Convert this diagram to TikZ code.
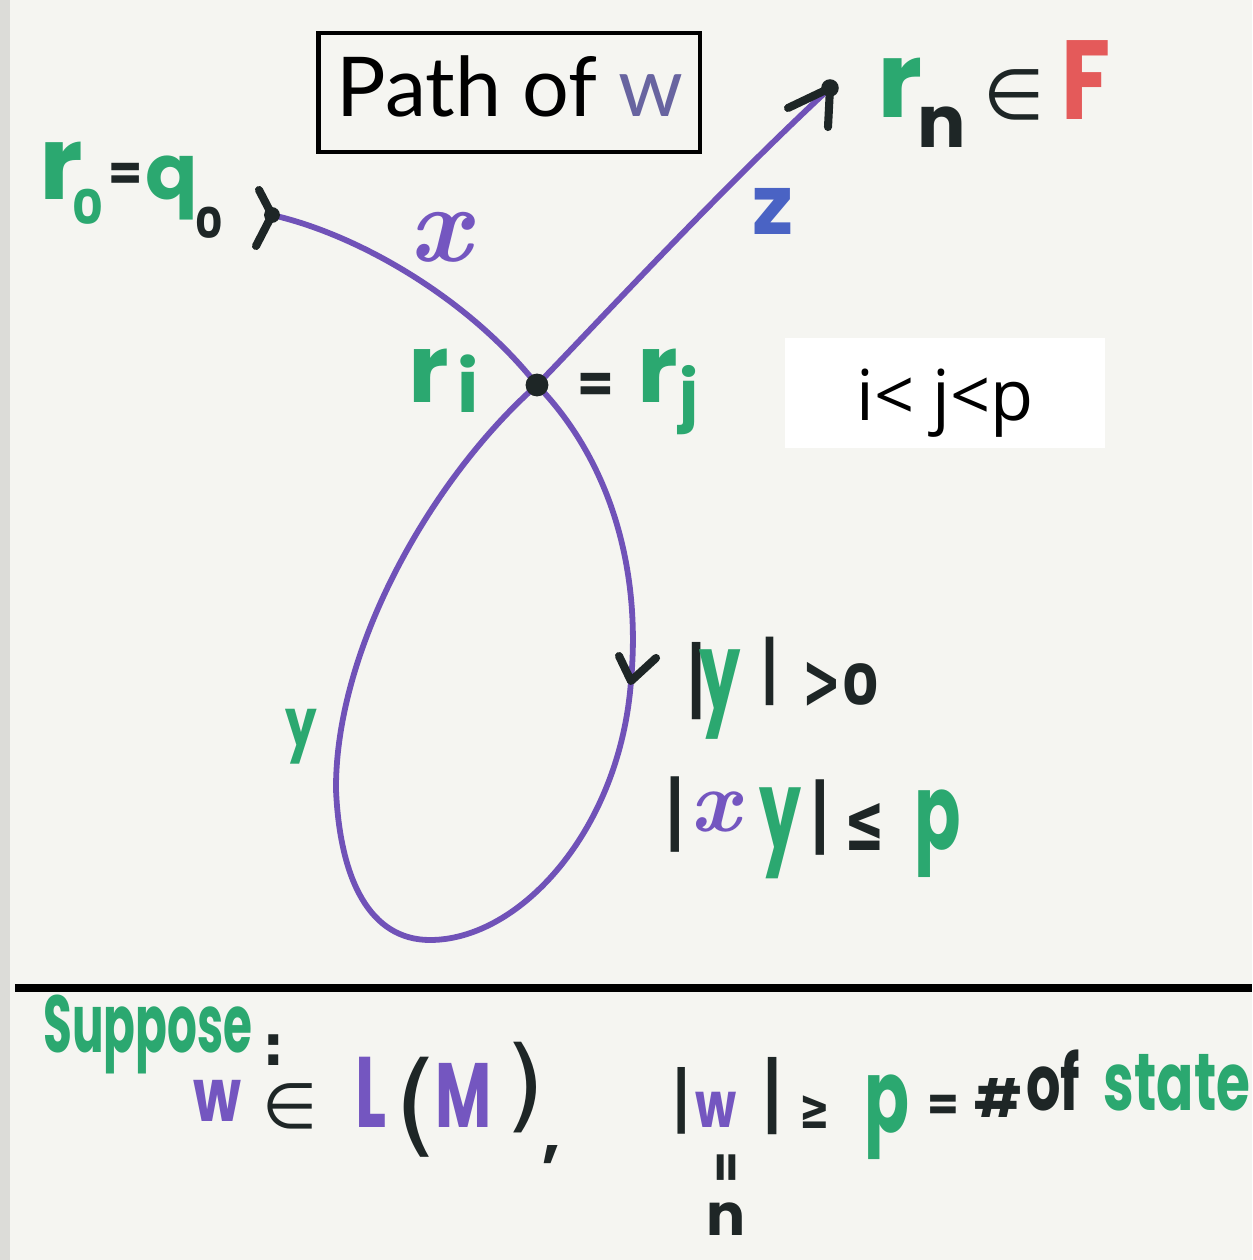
\documentclass[tikz,border=0pt]{standalone}
\usepackage{fontspec}
\usepackage{graphicx}
\newfontfamily\hw{Poppins}
\newfontfamily\sym{DejaVu Sans}
\newfontfamily\ttl{Lato}
\newfontfamily\oss{Open Sans}
\newcommand\fs[1]{\fontsize{#1}{#1}\selectfont}
\newcommand\sx[2]{\scalebox{#1}[1]{#2}}
\definecolor{paper}{HTML}{F5F5F1}
\definecolor{edge}{HTML}{DCDCD8}
\definecolor{cgreen}{HTML}{2BA870}
\definecolor{hblack}{HTML}{1E2626}
\definecolor{cpurple}{HTML}{7052B8}
\definecolor{lpurple}{HTML}{7456C0}
\definecolor{cblue}{HTML}{4A63C4}
\definecolor{cred}{HTML}{E45A5A}
\definecolor{tw}{HTML}{6864A0}
\begin{document}
\begin{tikzpicture}[x=0.02cm,y=-0.02cm,
  hwtext/.style={inner sep=0pt, font=\hw\bfseries},
  symtext/.style={inner sep=0pt, font=\sym\bfseries},
  thinsym/.style={inner sep=0pt, font=\sym},
  ittext/.style={inner sep=0pt, font=\rmfamily\bfseries\itshape},
  pathline/.style={draw=cpurple, line width=3.3pt},
  tick/.style={draw=hblack, line width=4.6pt, line cap=round, line join=round}]
% background
\fill[paper] (0,0) rectangle (1252,1260);
\fill[edge] (0,0) rectangle (10,1260);
\useasboundingbox (0,0) rectangle (1252,1260);
% title box
\node[draw=black, line width=2.8pt, minimum width=7.64cm, minimum height=2.38cm, inner sep=0pt] (title) at (509,92.5) {};
\node[inner sep=0pt, font=\ttl, anchor=base] (titletext) at (510,117) {\fs{47}Path of \textcolor{tw}{w}};
% condition box
\node[fill=white, minimum width=6.4cm, minimum height=2.2cm, inner sep=0pt] (cond) at (945,393) {};
\node[inner sep=0pt, font=\oss, anchor=base] (condtext) at (945,420) {\fs{40}i< j<p};
% separator line
\coordinate (sepL) at (15,988);
\coordinate (sepR) at (1252,988);
\draw[black, line width=4pt] (sepL) -- (sepR);
% path coordinates
\coordinate (pstart) at (272,215);
\coordinate (cross) at (537,385);
\coordinate (yarr) at (631,681);
\coordinate (pend) at (830,88);
\coordinate (loopb) at (430,940);
\coordinate (loopl) at (336,790);
% purple path
\draw[pathline] (pstart) .. controls (360,235) and (470,300) .. (cross);
\draw[pathline] (cross) .. controls (605,455) and (642,560) .. (yarr);
\draw[pathline] (yarr) .. controls (620,830) and (520,940) .. (loopb) .. controls (370,940) and (340,880) .. (loopl) .. controls (335,650) and (430,480) .. (cross);
\draw[pathline] (cross) .. controls (600,320) and (720,190) .. (pend);
% arrow marks
\coordinate (sa1) at (259,190);
\coordinate (sa2) at (256,246);
\draw[tick] (sa1) -- (pstart) -- (sa2);
\coordinate (ea1) at (788,108);
\coordinate (ea2) at (828,127);
\draw[tick] (ea1) -- (pend) -- (ea2);
\coordinate (ya1) at (619,656);
\coordinate (ya2) at (656,658);
\draw[tick] (ya1) -- (yarr) -- (ya2);
\fill[hblack] (pstart) circle (4.5pt);
\fill[hblack] (pend) circle (5pt);
\fill[hblack] (cross) circle (6.5pt);
% r0 = q0
\node[hwtext, text=cgreen] (r0r) at (61,171) {\fs{58}r};
\node[hwtext, text=cgreen] (r0s) at (88,207) {\fs{27}0};
\node[hwtext, text=hblack] (eq1) at (126,177) {\fs{28}=};
\node[hwtext, text=cgreen] (q0q) at (172,188) {\fs{44}q};
\node[hwtext, text=hblack] (q0s) at (209,223) {\fs{24}0};
% x, z labels
\node[ittext, text=lpurple] (lx) at (440,237) {\fs{62}x};
\node[hwtext, text=cblue] (lz) at (773,211) {\fs{47}z};
% ri = rj
\node[hwtext, text=cgreen] (rir) at (429,376) {\fs{54}r};
\node[hwtext, text=cgreen] (rii) at (468,384) {\fs{41}i};
\node[hwtext, text=hblack] (eq2) at (596,388) {\fs{30}=};
\node[hwtext, text=cgreen] (rjr) at (658,376) {\fs{54}r};
\node[hwtext, text=cgreen] (rjj) at (689,400) {\fs{37}j};
% rn in F
\node[hwtext, text=cgreen] (rnr) at (900,88) {\fs{60}r};
\node[hwtext, text=hblack] (rnn) at (942,127) {\fs{41}n};
\node[thinsym, text=hblack] (rnin) at (1014,95) {\fs{40}∈};
\node[hwtext, text=cred] (rnF) at (1086,80) {\fs{64}\sx{0.8}{F}};
% loop label y
\node[hwtext, text=cgreen] (ly) at (301,737) {\fs{38}\sx{0.75}{y}};
% |y| > 0
\node[symtext, text=hblack] (b1) at (697,681) {\fs{44}|};
\node[hwtext, text=cgreen] (y1) at (720,695) {\fs{62}\sx{0.6}{y}};
\node[symtext, text=hblack] (b2) at (770,671) {\fs{39}|};
\node[symtext, text=hblack] (gt) at (822,685) {\fs{44}\sx{0.6}{>}};
\node[hwtext, text=hblack] (z0) at (861,685) {\fs{32}0};
% |xy| <= p
\node[symtext, text=hblack] (b3) at (675,815) {\fs{43}|};
\node[ittext, text=lpurple] (x2) at (715,812) {\fs{50}x};
\node[hwtext, text=cgreen] (y2) at (780,833) {\fs{63}\sx{0.6}{y}};
\node[symtext, text=hblack] (b4) at (820,818) {\fs{43}|};
\node[symtext, text=hblack] (le) at (865,827) {\fs{46}\sx{0.6}{≤}};
\node[hwtext, text=cgreen] (p1) at (938,834) {\fs{60}\sx{0.65}{p}};
% bottom
\node[hwtext, text=cgreen] (sup) at (148,1034) {\fs{46}\sx{0.58}{Suppose}};
\node[symtext, text=hblack] (col) at (274,1050) {\fs{32}:};
\node[hwtext, text=lpurple] (w1) at (217,1101) {\fs{42}\sx{0.75}{w}};
\node[thinsym, text=hblack] (in2) at (290,1106) {\fs{36}∈};
\node[hwtext, text=lpurple] (bL) at (371,1092) {\fs{57}\sx{0.65}{L}};
\node[thinsym, text=hblack] (lp) at (416,1107) {\fs{64}(};
\node[hwtext, text=lpurple] (bM) at (464,1095) {\fs{52}\sx{0.67}{M}};
\node[thinsym, text=hblack] (rp) at (525,1088) {\fs{58})};
\node[hwtext, text=hblack] (com) at (552,1155) {\fs{36},};
\node[symtext, text=hblack] (b5) at (682,1101) {\fs{38}|};
\node[hwtext, text=lpurple] (w2) at (716,1110) {\fs{36}\sx{0.75}{w}};
\node[symtext, text=hblack] (b6) at (773,1096) {\fs{44}|};
\node[symtext, text=hblack] (ge) at (815,1112) {\fs{32}\sx{0.65}{≥}};
\node[hwtext, text=hblack] (eqv) at (730,1168) {\fs{26}\rotatebox{90}{=}};
\node[hwtext, text=hblack] (n2) at (726,1219) {\fs{33}n};
\node[hwtext, text=cgreen] (p2) at (887,1117) {\fs{58}\sx{0.65}{p}};
\node[hwtext, text=hblack] (eq3) at (943,1108) {\fs{26}=};
\node[hwtext, text=hblack] (hash) at (998,1098) {\fs{30}\#};
\node[hwtext, text=hblack] (of) at (1053,1080) {\fs{44}\sx{0.7}{of}};
\node[hwtext, text=cgreen] (state) at (1177,1083) {\fs{46}\sx{0.68}{state}};
\end{tikzpicture}
\end{document}
